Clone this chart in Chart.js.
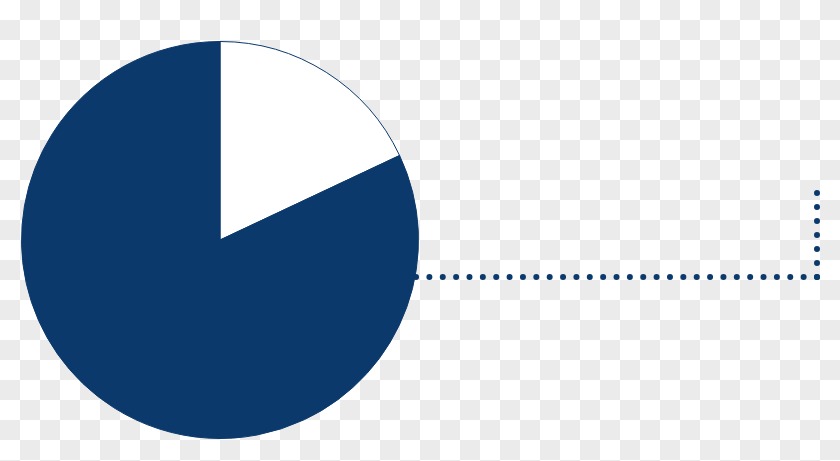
<!DOCTYPE html>
<html>
<head>
<meta charset="utf-8">
<script src="https://cdn.jsdelivr.net/npm/chart.js@4/dist/chart.umd.min.js"></script>
<style>
  html, body { margin: 0; padding: 0; }
  body {
    width: 840px; height: 461px; overflow: hidden;
    background: repeating-conic-gradient(#ebebeb 0% 25%, #ffffff 0% 50%) 0 0 / 40px 40px;
  }
  #wrap { position: relative; width: 840px; height: 461px; }
</style>
</head>
<body>
<div id="wrap"><canvas id="pieChart"></canvas></div>
<script>
const labels = ["Share", "Rest"];
const values = [18, 82];

const navy = "#0b396c";
const sliceColors = ["#ffffff", navy];

// dotted leader line from the pie edge to the right side
const leaderLine = {
  id: "leaderLine",
  afterDatasetsDraw(chart) {
    const arc = chart.getDatasetMeta(0).data[1];
    if (!arc) return;
    const cy = arc.y + 37;
    const startX = arc.x + Math.sqrt(arc.outerRadius ** 2 - 37 ** 2) + 1;
    const cornerX = chart.width - 23;
    const topY = cy - 84;
    const ctx = chart.ctx;
    ctx.save();
    ctx.strokeStyle = navy;
    ctx.lineWidth = 6;
    ctx.lineCap = "round";

    ctx.setLineDash([0, (cornerX - startX) / 30]);
    ctx.beginPath();
    ctx.moveTo(cornerX, cy);
    ctx.lineTo(startX - 1, cy);
    ctx.stroke();

    ctx.setLineDash([0, 14]);
    ctx.beginPath();
    ctx.moveTo(cornerX, cy);
    ctx.lineTo(cornerX, topY - 1);
    ctx.stroke();
    ctx.restore();
  }
};

new Chart(document.getElementById("pieChart"), {
  type: "pie",
  data: {
    labels: labels,
    datasets: [{
      data: values,
      backgroundColor: sliceColors,
      borderColor: navy,
      borderWidth: 1,
    }]
  },
  options: {
    responsive: true,
    maintainAspectRatio: false,
    animation: false,
    layout: {
      padding: { left: 21, top: 41, right: 421, bottom: 22 }
    },
    plugins: {
      legend: { display: false },
      tooltip: { enabled: false }
    }
  },
  plugins: [leaderLine]
});
</script>
</body>
</html>
